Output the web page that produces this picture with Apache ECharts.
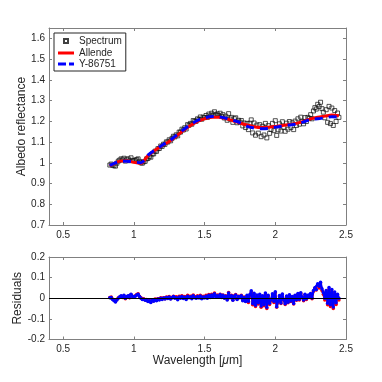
<!DOCTYPE html>
<html><head><meta charset="utf-8">
<script src="https://cdn.jsdelivr.net/npm/echarts@6/dist/echarts.min.js"></script>
<style>html,body{margin:0;padding:0;background:#fff}#c{width:382px;height:382px}</style>
</head><body><div id="c"></div>
<script>
const wavelength = [0.83,0.84,0.85,0.86,0.87,0.88,0.89,
0.90,0.91,0.92,0.93,0.94,0.95,0.96,0.97,0.98,0.99,
1.00,1.01,1.02,1.03,1.04,1.05,1.06,1.07,1.08,1.09,
1.10,1.11,1.12,1.13,1.14,1.15,1.16,1.17,1.18,1.19,
1.20,1.21,1.22,1.23,1.24,1.25,1.26,1.27,1.28,1.29,
1.30,1.31,1.32,1.33,1.34,1.35,1.36,1.37,1.38,1.39,
1.40,1.41,1.42,1.43,1.44,1.45,1.46,1.47,1.48,1.49,
1.50,1.51,1.52,1.53,1.54,1.55,1.56,1.57,1.58,1.59,
1.60,1.61,1.62,1.63,1.64,1.65,1.66,1.67,1.68,1.69,
1.70,1.71,1.72,1.73,1.74,1.75,1.76,1.77,1.78,1.79,
1.80,1.81,1.82,1.83,1.84,1.85,1.86,1.87,1.88,1.89,
1.90,1.91,1.92,1.93,1.94,1.95,1.96,1.97,1.98,1.99,
2.00,2.01,2.02,2.03,2.04,2.05,2.06,2.07,2.08,2.09,
2.10,2.11,2.12,2.13,2.14,2.15,2.16,2.17,2.18,2.19,
2.20,2.21,2.22,2.23,2.24,2.25,2.26,2.27,2.28,2.29,
2.30,2.31,2.32,2.33,2.34,2.35,2.36,2.37,2.38,2.39,
2.40,2.41,2.42,2.43,2.44,2.45];

const spectrum = [0.989,0.994,0.988,0.986,0.984,0.998,1.008,
1.013,1.019,1.014,1.022,1.008,1.017,1.019,1.010,1.024,1.012,
1.010,1.012,1.016,1.019,1.007,1.000,0.998,1.005,1.007,1.019,
1.021,1.030,1.027,1.042,1.043,1.056,1.055,1.068,1.069,1.081,
1.079,1.090,1.089,1.101,1.100,1.111,1.106,1.118,1.128,1.125,
1.135,1.130,1.148,1.148,1.162,1.158,1.169,1.163,1.184,1.181,
1.190,1.186,1.204,1.200,1.200,1.212,1.209,1.221,1.210,1.220,
1.218,1.228,1.219,1.235,1.226,1.239,1.230,1.246,1.232,1.236,
1.228,1.239,1.224,1.232,1.216,1.225,1.205,1.237,1.211,1.219,
1.195,1.213,1.217,1.193,1.205,1.196,1.204,1.178,1.192,1.170,
1.190,1.160,1.191,1.207,1.144,1.192,1.133,1.182,1.143,1.184,
1.126,1.176,1.134,1.190,1.120,1.179,1.142,1.161,1.190,1.155,
1.203,1.132,1.159,1.188,1.153,1.198,1.171,1.152,1.191,1.162,
1.199,1.170,1.193,1.160,1.201,1.180,1.212,1.186,1.220,1.200,
1.188,1.218,1.199,1.219,1.214,1.232,1.212,1.250,1.266,1.259,
1.282,1.271,1.292,1.261,1.244,1.217,1.256,1.195,1.272,1.189,
1.264,1.180,1.252,1.199,1.240,1.219];

const residualAllende = [0.004,0.006,-0.004,-0.010,-0.016,-0.006,0.002,
0.005,0.010,0.004,0.012,-0.002,0.007,0.010,0.002,0.018,0.008,
0.008,0.012,0.018,0.022,0.010,0.002,-0.004,-0.003,-0.008,-0.006,
-0.014,-0.010,-0.018,-0.008,-0.012,-0.004,-0.010,-0.002,-0.006,0.002,
-0.004,0.003,-0.002,0.006,0.001,0.008,-0.002,0.005,0.010,0.002,
0.007,-0.003,0.010,0.004,0.012,0.003,0.009,-0.002,0.014,0.006,
0.010,0.002,0.016,0.008,0.004,0.012,0.006,0.015,0.002,0.010,
0.006,0.014,0.004,0.018,0.008,0.020,0.010,0.026,0.012,0.016,
0.008,0.020,0.006,0.016,0.002,0.012,-0.006,0.028,0.004,0.014,
-0.008,0.012,0.018,-0.004,0.010,0.004,0.014,-0.010,0.006,-0.014,
0.008,-0.020,0.012,0.030,-0.032,0.018,-0.040,0.010,-0.028,0.014,
-0.044,0.006,-0.036,0.020,-0.050,0.008,-0.030,-0.012,0.016,-0.020,
0.028,-0.044,-0.018,0.010,-0.026,0.018,-0.010,-0.030,0.008,-0.022,
0.014,-0.016,0.006,-0.028,0.012,-0.010,0.020,-0.008,0.024,0.002,
-0.012,0.016,-0.006,0.012,0.004,0.020,-0.002,0.034,0.048,0.040,
0.062,0.050,0.070,0.038,0.020,-0.008,0.030,-0.032,0.044,-0.040,
0.034,-0.050,0.022,-0.030,0.012,-0.008];

const residualY86751 = [0.002,0.004,-0.006,-0.012,-0.018,-0.008,0.000,
0.007,0.012,0.006,0.014,0.000,0.009,0.012,0.004,0.020,0.010,
0.006,0.010,0.016,0.020,0.008,0.000,-0.006,-0.005,-0.010,-0.008,
-0.016,-0.012,-0.020,-0.010,-0.014,-0.006,-0.012,-0.004,-0.008,0.000,
-0.006,0.001,-0.004,0.004,-0.001,0.006,-0.004,0.003,0.008,0.000,
0.003,-0.007,0.006,0.000,0.008,-0.001,0.005,-0.006,0.010,0.002,
0.006,-0.002,0.012,0.004,0.000,0.008,0.002,0.011,-0.002,0.006,
0.002,0.010,0.000,0.014,0.004,0.016,0.006,0.022,0.008,0.012,
0.006,0.018,0.004,0.014,0.000,0.010,-0.008,0.026,0.002,0.012,
-0.010,0.010,0.016,-0.006,0.008,0.002,0.012,-0.012,0.004,-0.016,
0.014,-0.014,0.018,0.036,-0.026,0.024,-0.034,0.016,-0.022,0.020,
-0.038,0.012,-0.030,0.026,-0.044,0.014,-0.024,-0.006,0.022,-0.014,
0.031,-0.041,-0.015,0.013,-0.023,0.021,-0.007,-0.027,0.011,-0.019,
0.017,-0.013,0.009,-0.025,0.015,-0.007,0.023,-0.005,0.027,0.005,
-0.009,0.019,-0.003,0.015,0.007,0.023,0.001,0.037,0.051,0.043,
0.070,0.058,0.078,0.046,0.028,0.000,0.038,-0.024,0.052,-0.032,
0.042,-0.042,0.030,-0.022,0.020,0.000];

const modelWavelength = [0.83,0.85,0.90,0.95,1.00,1.05,1.10,1.15,1.20,1.25,1.30,1.35,1.40,1.45,1.50,1.55,1.60,1.65,1.70,1.75,1.80,1.85,1.90,1.95,2.00,2.05,2.10,2.15,2.20,2.25,2.30,2.35,2.40,2.45];
const allende = [0.985,0.992,1.008,1.010,1.002,0.998,1.035,1.060,1.083,1.103,1.128,1.155,1.180,1.200,1.212,1.219,1.220,1.213,1.203,1.192,1.182,1.174,1.170,1.171,1.175,1.180,1.185,1.190,1.200,1.212,1.220,1.225,1.230,1.227];
const y86751 = [0.987,0.994,1.006,1.008,1.004,1.000,1.037,1.062,1.085,1.105,1.132,1.159,1.184,1.204,1.216,1.223,1.222,1.215,1.205,1.194,1.176,1.168,1.164,1.165,1.172,1.177,1.182,1.187,1.197,1.209,1.212,1.217,1.222,1.219];

const xTicks = [0.5,1,1.5,2,2.5];
const yTicksTop = [0.7,0.8,0.9,1,1.1,1.2,1.3,1.4,1.5,1.6];
const yTicksBottom = [-0.2,-0.1,0,0.1,0.2];

const FONT = 'Liberation Sans, Arial, Helvetica, sans-serif';
const TXT = '#262626';
const AX = '#808080';
const fmt = v => String(+(+v).toFixed(2));
const zip = (a, b) => a.map((x, i) => [x, b[i]]);

function xAx(grid, pos, labels, name) {
  const o = {
    type: 'value', gridIndex: grid, position: pos, min: 0.4, max: 2.5,
    axisLine: {show: true, onZero: false, lineStyle: {color: AX, width: 1}},
    axisTick: {show: true, inside: true, length: 3, customValues: xTicks, lineStyle: {color: AX}},
    axisLabel: {show: labels, customValues: xTicks, formatter: fmt, fontSize: 10, color: TXT, fontFamily: FONT, margin: 5},
    splitLine: {show: false}
  };
  if (name) {
    o.name = 'Wavelength [{i|μ}m]';
    o.nameLocation = 'middle';
    o.nameGap = 15;
    o.nameMoveOverlap = false;
    o.nameTextStyle = {fontSize: 12, color: TXT, fontFamily: FONT, verticalAlign: 'top',
      rich: {i: {fontStyle: 'italic', fontSize: 12, color: TXT, fontFamily: FONT}}};
  }
  return o;
}
function yAx(grid, pos, labels, min, max, ticks, name, gap) {
  const o = {
    type: 'value', gridIndex: grid, position: pos, min: min, max: max,
    axisLine: {show: true, onZero: false, lineStyle: {color: AX, width: 1}},
    axisTick: {show: true, inside: true, length: 3, customValues: ticks, lineStyle: {color: AX}},
    axisLabel: {show: labels, customValues: ticks, formatter: fmt, fontSize: 10, color: TXT, fontFamily: FONT, margin: 4},
    splitLine: {show: false}
  };
  if (name) {
    o.name = name;
    o.nameLocation = 'middle';
    o.nameGap = gap;
    o.nameRotate = 90;
    o.nameMoveOverlap = false;
    o.nameTextStyle = {fontSize: 12, color: TXT, fontFamily: FONT};
  }
  return o;
}

const chart = echarts.init(document.getElementById('c'), null, {renderer: 'canvas'});
chart.setOption({
  animation: false,
  backgroundColor: '#fff',
  textStyle: {fontFamily: FONT},
  grid: [
    {left: 49, top: 28, width: 297, height: 197},
    {left: 49, top: 257, width: 297, height: 82.5}
  ],
  xAxis: [
    xAx(0, 'bottom', true, false),
    xAx(0, 'top', false, false),
    xAx(1, 'bottom', true, true),
    xAx(1, 'top', false, false)
  ],
  yAxis: [
    yAx(0, 'left', true, 0.7, 1.65, yTicksTop, 'Albedo reflectance', 21),
    yAx(0, 'right', false, 0.7, 1.65, yTicksTop),
    yAx(1, 'left', true, -0.2, 0.2, yTicksBottom, 'Residuals', 25),
    yAx(1, 'right', false, -0.2, 0.2, yTicksBottom)
  ],
  legend: {
    orient: 'vertical', left: 54, top: 33, padding: [2, 4, 2, 3], itemGap: 1,
    itemWidth: 16, itemHeight: 10, backgroundColor: '#fff', borderColor: '#262626', borderWidth: 1,
    borderRadius: 0,
    textStyle: {fontSize: 10, color: TXT, fontFamily: FONT},
    data: [
      {name: 'Spectrum', icon: 'path://M0,0M6,3L10,3L10,7L6,7ZM16,10'},
      {name: 'Allende', icon: 'path://M0,0M0,3.5L16,3.5L16,6.5L0,6.5ZM16,10',
        itemStyle: {color: '#ff0000', borderWidth: 0}},
      {name: 'Y-86751', icon: 'path://M0,0M0,3.5L8,3.5L8,6.5L0,6.5ZM11,3.5L16,3.5L16,6.5L11,6.5ZM16,10',
        itemStyle: {color: '#0000ff', borderWidth: 0}}
    ]
  },
  series: [
    {
      name: 'Spectrum', type: 'scatter', xAxisIndex: 0, yAxisIndex: 0, z: 2,
      symbol: 'rect', symbolSize: 4,
      itemStyle: {color: 'rgba(255,255,255,0)', borderColor: '#111', borderWidth: 0.9},
      data: zip(wavelength, spectrum)
    },
    {
      name: 'Allende', type: 'line', xAxisIndex: 0, yAxisIndex: 0, z: 3,
      symbol: 'none', smooth: 0.3,
      lineStyle: {color: '#ff0000', width: 3}, itemStyle: {color: '#ff0000'},
      data: zip(modelWavelength, allende)
    },
    {
      name: 'Y-86751', type: 'line', xAxisIndex: 0, yAxisIndex: 0, z: 4,
      symbol: 'none', smooth: 0.3,
      lineStyle: {color: '#0000ff', width: 3, type: [8, 6]}, itemStyle: {color: '#0000ff'},
      data: zip(modelWavelength, y86751)
    },
    {
      name: 'zero', type: 'line', xAxisIndex: 2, yAxisIndex: 2, z: 1, data: [],
      markLine: {silent: true, symbol: 'none', label: {show: false},
        lineStyle: {color: '#000', width: 1, type: 'solid'}, data: [{yAxis: 0}]}
    },
    {
      name: 'Allende residual', type: 'line', xAxisIndex: 2, yAxisIndex: 2, z: 3,
      symbol: 'circle', symbolSize: 3.5, showSymbol: true,
      lineStyle: {color: '#ff0000', width: 2.2}, itemStyle: {color: '#ff0000'},
      data: zip(wavelength, residualAllende)
    },
    {
      name: 'Y-86751 residual', type: 'line', xAxisIndex: 2, yAxisIndex: 2, z: 4,
      symbol: 'circle', symbolSize: 3.5, showSymbol: true,
      lineStyle: {color: '#0000ff', width: 2.2}, itemStyle: {color: '#0000ff'},
      data: zip(wavelength, residualY86751)
    }
  ]
});
</script>
</body></html>
